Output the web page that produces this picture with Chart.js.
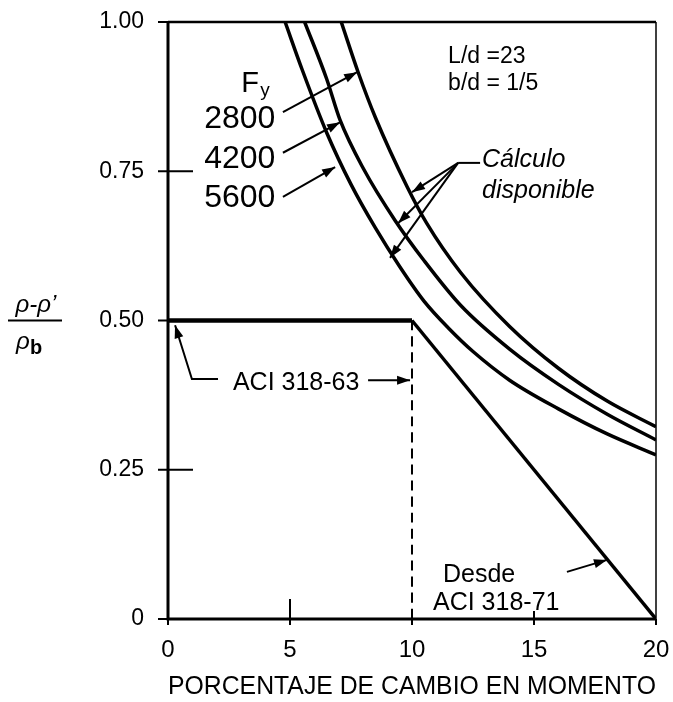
<!DOCTYPE html>
<html>
<head>
<meta charset="utf-8">
<script src="https://cdn.jsdelivr.net/npm/chart.js@4.4.1/dist/chart.umd.min.js"></script>
<style>
  html, body { margin: 0; padding: 0; background: #fff; }
  #wrap { width: 673px; height: 702px; }
</style>
</head>
<body>
<div id="wrap"><canvas id="my-chart" width="673" height="702"></canvas></div>
<script>
'use strict';

/* DATA */
let xTicks = [0, 5, 10, 15, 20];
let yTicks = [0, 0.25, 0.5, 0.75, 1.0];

// Fy = 2800
let curveX2800 = [7.1, 7.8, 8.5, 9.8, 10.6, 12, 14, 16, 18, 20];
let curveY2800 = [1.0, 0.915, 0.84, 0.724, 0.663, 0.58, 0.49, 0.42, 0.365, 0.322];
// Fy = 4200
let curveX4200 = [5.6, 6.5, 7.05, 8, 9.3, 10.5, 12, 14, 16, 18, 20];
let curveY4200 = [1.0, 0.905, 0.836, 0.755, 0.668, 0.6, 0.525, 0.452, 0.393, 0.343, 0.30];
// Fy = 5600
let curveX5600 = [4.8, 5.5, 6.5, 7.5, 8.5, 9.5, 10.5, 11.5, 12.5, 14, 16, 18, 20];
let curveY5600 = [1.0, 0.92, 0.815, 0.728, 0.655, 0.59, 0.532, 0.487, 0.448, 0.4, 0.352, 0.31, 0.275];
// ACI 318-63 limit
let aci63X = [0, 10];
let aci63Y = [0.5, 0.5];
// ACI 318-71 limit
let aci71X = [10, 20];
let aci71Y = [0.5, 0];
// 10 % vertical (dashed)
let dashX = [10, 10];
let dashY = [0.5, 0];

function zip(xs, ys) {
  return xs.map((x, i) => ({ x: x, y: ys[i] }));
}

/* DOM */
let canvasElem = document.getElementById('my-chart').getContext('2d');

const FONT = "'Liberation Sans', Arial, sans-serif";

function lineDs(data, width, dash) {
  return {
    data: data,
    borderColor: '#000',
    borderWidth: width,
    borderDash: dash || [],
    pointRadius: 0,
    fill: false,
    cubicInterpolationMode: 'monotone',
  };
}

/* DRAW HELPERS */
function arrowHead(ctx, x1, y1, x2, y2) {
  let a = Math.atan2(y2 - y1, x2 - x1);
  let len = 13, w = 4.5;
  ctx.beginPath();
  ctx.moveTo(x2, y2);
  ctx.lineTo(x2 - len * Math.cos(a) + w * Math.sin(a), y2 - len * Math.sin(a) - w * Math.cos(a));
  ctx.lineTo(x2 - len * Math.cos(a) - w * Math.sin(a), y2 - len * Math.sin(a) + w * Math.cos(a));
  ctx.closePath();
  ctx.fill();
}

function arrow(ctx, pts) {
  ctx.beginPath();
  ctx.moveTo(pts[0][0], pts[0][1]);
  for (let i = 1; i < pts.length; i++) ctx.lineTo(pts[i][0], pts[i][1]);
  ctx.stroke();
  let n = pts.length;
  arrowHead(ctx, pts[n - 2][0], pts[n - 2][1], pts[n - 1][0], pts[n - 1][1]);
}

let decorPlugin = {
  id: 'decor',
  afterDraw(chart) {
    let ctx = chart.ctx;
    let xs = chart.scales.x, ys = chart.scales.y;
    let area = chart.chartArea;
    let P = (x, y) => [xs.getPixelForValue(x), ys.getPixelForValue(y)];
    ctx.save();
    ctx.strokeStyle = '#000';
    ctx.fillStyle = '#000';
    ctx.lineCap = 'butt';

    // frame
    ctx.lineWidth = 3;
    ctx.beginPath();
    ctx.moveTo(area.left, area.top);
    ctx.lineTo(area.left, area.bottom);
    ctx.lineTo(area.right, area.bottom);
    ctx.stroke();
    ctx.lineWidth = 2.5;
    ctx.beginPath();
    ctx.moveTo(area.left, area.top);
    ctx.lineTo(area.right, area.top);
    ctx.stroke();
    ctx.lineWidth = 1.5;
    ctx.beginPath();
    ctx.moveTo(area.right, area.top);
    ctx.lineTo(area.right, area.bottom);
    ctx.stroke();

    // tick marks
    ctx.lineWidth = 2;
    yTicks.forEach((v) => {
      let y = ys.getPixelForValue(v);
      let inner = (v === 0.25 || v === 0.75) ? 25 : 0;
      ctx.beginPath();
      ctx.moveTo(area.left - 10, y);
      ctx.lineTo(area.left + inner, y);
      ctx.stroke();
    });
    xTicks.forEach((v) => {
      let x = xs.getPixelForValue(v);
      let up = (v === 5) ? 20 : (v === 15 ? 8 : 0);
      ctx.beginPath();
      ctx.moveTo(x, area.bottom + 6);
      ctx.lineTo(x, area.bottom - up);
      ctx.stroke();
    });

    // text labels
    ctx.textBaseline = 'alphabetic';
    ctx.textAlign = 'left';
    ctx.font = '23px ' + FONT;
    let p = P(11.48, 0.931);
    ctx.fillText('L/d =23', p[0], p[1]);
    p = P(11.48, 0.886);
    ctx.fillText('b/d = 1/5', p[0], p[1]);

    ctx.font = '29px ' + FONT;
    p = P(3.0, 0.883);
    ctx.fillText('F', p[0], p[1]);
    ctx.font = '19px ' + FONT;
    ctx.fillText('y', p[0] + 19, p[1] + 4);

    ctx.font = '32px ' + FONT;
    ctx.textAlign = 'right';
    p = P(4.4, 0.822);
    ctx.fillText('2800', p[0], p[1]);
    p = P(4.4, 0.755);
    ctx.fillText('4200', p[0], p[1]);
    p = P(4.4, 0.690);
    ctx.fillText('5600', p[0], p[1]);

    ctx.textAlign = 'left';
    ctx.font = 'italic 25px ' + FONT;
    p = P(12.87, 0.757);
    ctx.fillText('Cálculo', p[0], p[1]);
    p = P(12.87, 0.705);
    ctx.fillText('disponible', p[0], p[1]);

    ctx.font = '25px ' + FONT;
    p = P(2.66, 0.384);
    ctx.fillText('ACI 318-63', p[0], p[1]);
    p = P(11.27, 0.062);
    ctx.fillText('Desde', p[0], p[1]);
    p = P(10.86, 0.015);
    ctx.fillText('ACI 318-71', p[0], p[1]);

    // leaders and arrows
    ctx.lineWidth = 2;
    arrow(ctx, [P(4.71, 0.849), P(7.75, 0.916)]);
    arrow(ctx, [P(4.71, 0.781), P(7.05, 0.832)]);
    arrow(ctx, [P(4.71, 0.707), P(6.85, 0.757)]);

    let hub = P(11.89, 0.764);
    ctx.beginPath();
    ctx.moveTo(...P(12.79, 0.764));
    ctx.lineTo(hub[0], hub[1]);
    ctx.stroke();
    arrow(ctx, [hub, P(10.0, 0.715)]);
    arrow(ctx, [hub, P(9.43, 0.663)]);
    arrow(ctx, [hub, P(9.1, 0.605)]);

    arrow(ctx, [P(2.05, 0.402), P(0.98, 0.402), P(0.29, 0.492)]);
    arrow(ctx, [P(8.2, 0.400), P(9.92, 0.400)]);
    arrow(ctx, [P(16.35, 0.079), P(17.99, 0.099)]);

    // y axis title: (rho - rho') / rho_b
    let midY = ys.getPixelForValue(0.5);
    ctx.font = 'italic 24px ' + FONT;
    ctx.textAlign = 'center';
    ctx.fillText('\u03C1-\u03C1\u2019', 36, midY - 9);
    ctx.lineWidth = 2;
    ctx.beginPath();
    ctx.moveTo(8, midY);
    ctx.lineTo(62, midY);
    ctx.stroke();
    ctx.textAlign = 'left';
    ctx.fillText('\u03C1', 16, midY + 28);
    ctx.font = 'bold 20px ' + FONT;
    ctx.fillText('b', 30, midY + 33);

    ctx.restore();
  },
};

function renderChart() {
  Chart.defaults.color = '#000000';
  Chart.defaults.font.family = FONT;

  let myChartObj = {
    type: 'line',
    data: {
      datasets: [
        lineDs(zip(curveX2800, curveY2800), 3.5),
        lineDs(zip(curveX4200, curveY4200), 3.5),
        lineDs(zip(curveX5600, curveY5600), 3.5),
        lineDs(zip(aci63X, aci63Y), 4.5),
        lineDs(zip(aci71X, aci71Y), 3.5),
        lineDs(zip(dashX, dashY), 2, [10, 6]),
      ],
    },
    plugins: [decorPlugin],
    options: {
      responsive: false,
      animation: false,
      events: [],
      layout: {
        padding: { top: 22, right: 17, left: 0, bottom: 0 },
      },
      plugins: {
        legend: { display: false },
        tooltip: { enabled: false },
      },
      scales: {
        x: {
          type: 'linear',
          min: 0,
          max: 20,
          grid: { display: false },
          border: { display: false },
          afterBuildTicks: (scale) => {
            scale.ticks = xTicks.map((v) => ({ value: v }));
          },
          ticks: {
            font: { size: 24 },
            padding: 9,
            maxRotation: 0,
          },
          title: {
            display: true,
            text: 'PORCENTAJE DE CAMBIO EN MOMENTO',
            font: { size: 26 },
            padding: { top: 0, bottom: 0 },
          },
          afterFit: (scale) => {
            scale.height = 83;
            scale.paddingLeft = 0;
            scale.paddingRight = 0;
          },
        },
        y: {
          type: 'linear',
          min: 0,
          max: 1,
          grid: { display: false },
          border: { display: false },
          afterBuildTicks: (scale) => {
            scale.ticks = yTicks.map((v) => ({ value: v }));
          },
          ticks: {
            font: { size: 23 },
            padding: 16,
            callback: (v) => (v === 0 ? '0' : v.toFixed(2)),
          },
          afterFit: (scale) => {
            scale.width = 168;
            scale.paddingTop = 0;
            scale.paddingBottom = 0;
          },
        },
      },
    },
  };
  new Chart(canvasElem, myChartObj);
}
renderChart();
</script>
</body>
</html>
